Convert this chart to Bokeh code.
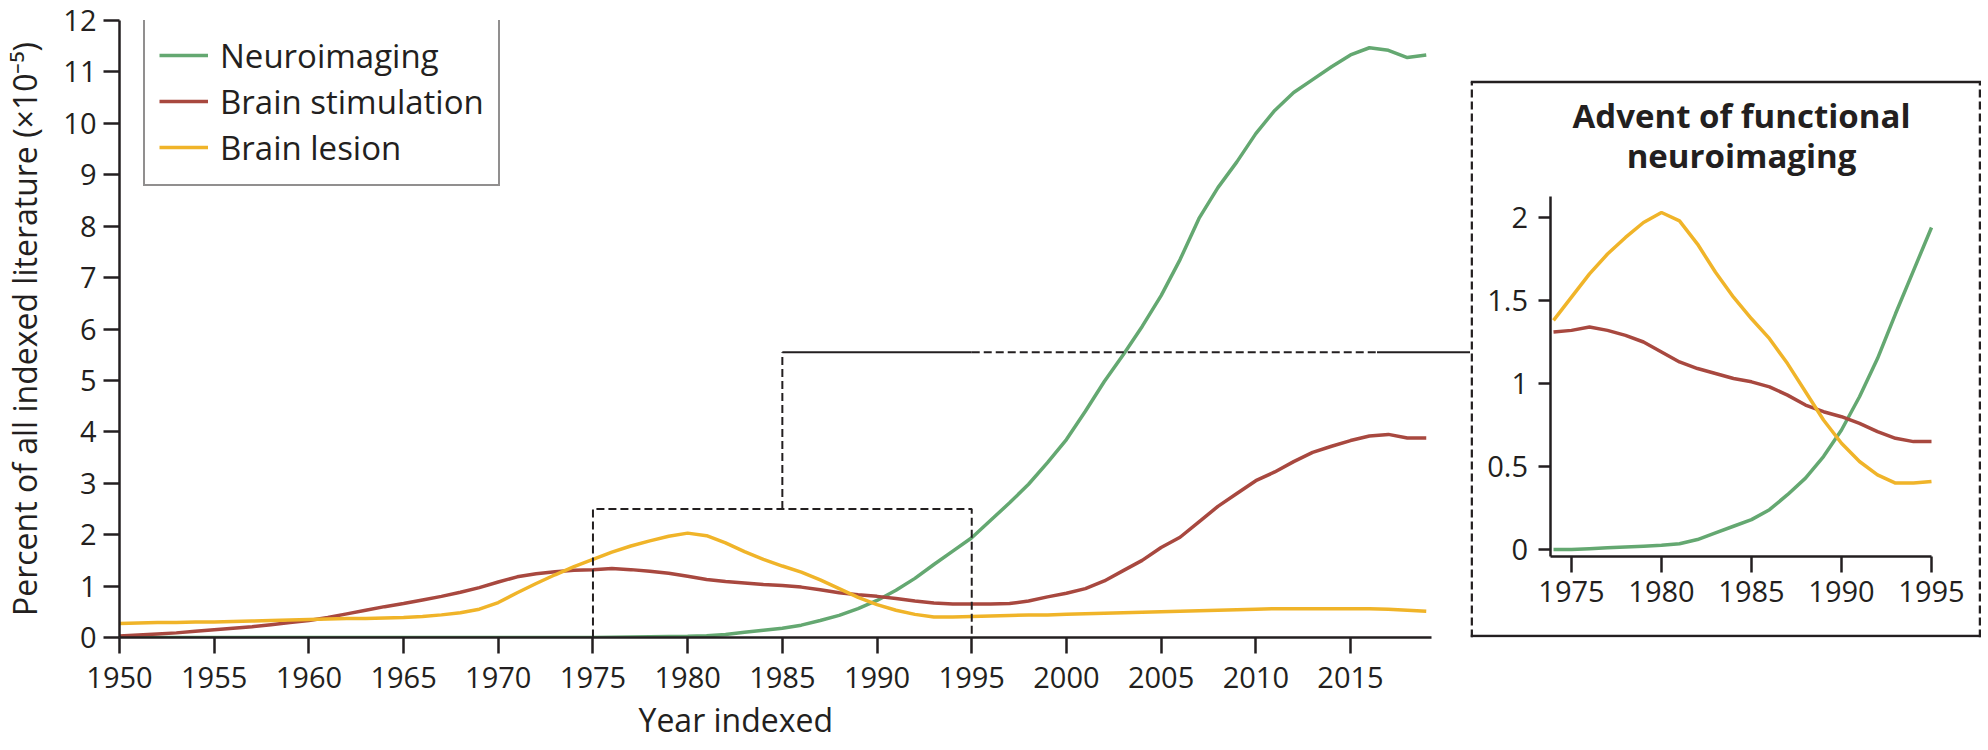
from bokeh.plotting import figure
from bokeh.models import (Legend, LegendItem, Span, Label, FixedTicker, ColumnDataSource,
                          Range1d, NumeralTickFormatter, Title)
from bokeh.layouts import row
from bokeh.embed import file_html
from bokeh.resources import INLINE

# ---------------- data ----------------
years = list(range(1950, 2020))

neuroimaging = [
    0.0, 0.0, 0.0, 0.0, 0.0, 0.0, 0.0, 0.0, 0.0, 0.0,            # 1950-59
    0.0, 0.0, 0.0, 0.0, 0.0, 0.0, 0.0, 0.0, 0.0, 0.0,            # 1960-69
    0.0, 0.0, 0.0, 0.0, 0.0, 0.0, 0.005, 0.01, 0.015, 0.02,      # 1970-79
    0.025, 0.035, 0.06, 0.10, 0.14, 0.18, 0.24, 0.33, 0.43, 0.56,  # 1980-89
    0.72, 0.92, 1.15, 1.42, 1.68, 1.94, 2.28, 2.62, 2.98, 3.40,  # 1990-99
    3.85, 4.40, 4.98, 5.50, 6.05, 6.65, 7.35, 8.15, 8.75, 9.25,  # 2000-09
    9.80, 10.25, 10.60, 10.85, 11.10, 11.33, 11.47, 11.42, 11.28, 11.33,  # 2010-19
]

brain_stimulation = [
    0.03, 0.05, 0.07, 0.09, 0.12, 0.15, 0.18, 0.21, 0.25, 0.29,  # 1950-59
    0.33, 0.39, 0.46, 0.53, 0.60, 0.66, 0.73, 0.80, 0.88, 0.97,  # 1960-69
    1.08, 1.18, 1.24, 1.28, 1.31, 1.32, 1.34, 1.32, 1.29, 1.25,  # 1970-79
    1.19, 1.13, 1.09, 1.06, 1.03, 1.01, 0.98, 0.93, 0.87, 0.83,  # 1980-89
    0.80, 0.76, 0.71, 0.67, 0.65, 0.65, 0.65, 0.66, 0.71, 0.79,  # 1990-99
    0.86, 0.95, 1.10, 1.30, 1.50, 1.75, 1.95, 2.25, 2.55, 2.80,  # 2000-09
    3.05, 3.22, 3.42, 3.60, 3.72, 3.83, 3.92, 3.95, 3.88, 3.88,  # 2010-19
]

brain_lesion = [
    0.27, 0.28, 0.29, 0.29, 0.30, 0.30, 0.31, 0.32, 0.33, 0.34,  # 1950-59
    0.35, 0.36, 0.37, 0.37, 0.38, 0.39, 0.41, 0.44, 0.48, 0.55,  # 1960-69
    0.68, 0.87, 1.05, 1.22, 1.38, 1.52, 1.66, 1.78, 1.88, 1.97,  # 1970-79
    2.03, 1.98, 1.84, 1.67, 1.52, 1.39, 1.27, 1.12, 0.95, 0.78,  # 1980-89
    0.64, 0.53, 0.45, 0.40, 0.40, 0.41, 0.42, 0.43, 0.44, 0.44,  # 1990-99
    0.45, 0.46, 0.47, 0.48, 0.49, 0.50, 0.51, 0.52, 0.53, 0.54,  # 2000-09
    0.55, 0.56, 0.56, 0.56, 0.56, 0.56, 0.56, 0.55, 0.53, 0.51,  # 2010-19
]

series_names = ["Neuroimaging", "Brain stimulation", "Brain lesion"]
main_x_ticks = list(range(1950, 2016, 5))
main_y_ticks = list(range(0, 13))
inset_x_ticks = [1975, 1980, 1985, 1990, 1995]
inset_y_ticks = [0, 0.5, 1, 1.5, 2]
y_label = "Percent of all indexed literature (\u00d710\u207b\u2075)"
x_label = "Year indexed"
inset_title = ["Advent of functional", "neuroimaging"]

zoom_years = (1975, 1995)     # region magnified in the inset
zoom_top = 2.5
callout_year = 1985
callout_level = 5.55
callout_solid_from = 2016.4

# ---------------- styles ----------------
FONT = "Open Sans"
INK = "#231f20"
COLORS = ["#64a871", "#a8483f", "#f0b429"]
LW = 3.5
DASH = "8 4"

# ---------------- main chart ----------------
PX_PER_YEAR = (1349 - 118) / 65.0
FRAME_W, FRAME_H = 1351, 617
TOP = 20
x_end = 1950 + FRAME_W / PX_PER_YEAR

src = ColumnDataSource(dict(year=years, neuro=neuroimaging, stim=brain_stimulation,
                            lesion=brain_lesion))

p = figure(frame_width=FRAME_W, frame_height=FRAME_H,
           x_range=Range1d(1950, x_end), y_range=Range1d(0, 12),
           output_backend="svg", toolbar_location=None,
           min_border_left=110, min_border_right=0, min_border_top=TOP, min_border_bottom=100)
p.xgrid.visible = False
p.ygrid.visible = False
p.outline_line_color = None
p.background_fill_color = "white"
p.border_fill_color = "white"


def style_axis(ax, tick_out, standoff):
    ax.axis_line_width = 2.5
    ax.axis_line_color = INK
    ax.major_tick_line_width = 2.5
    ax.major_tick_line_color = INK
    ax.major_tick_in = 0
    ax.major_tick_out = tick_out
    ax.minor_tick_line_color = None
    ax.major_label_text_font = FONT
    ax.major_label_text_font_size = "29px"
    ax.major_label_text_color = INK
    ax.major_label_standoff = standoff
    ax.axis_label_text_font = FONT
    ax.axis_label_text_font_size = "32px"
    ax.axis_label_text_font_style = "normal"
    ax.axis_label_text_color = INK


xa = p.xaxis[0]
ya = p.yaxis[0]
style_axis(xa, 16, 13)
style_axis(ya, 16, 7)
xa.ticker = FixedTicker(ticks=main_x_ticks)
xa.bounds = (years[0], years[-1] + 0.3)
ya.ticker = FixedTicker(ticks=main_y_ticks)
ya.axis_label = y_label
ya.axis_label_standoff = 14

# x-axis title, left-aligned so that it sits where the reference has it
x_title = Title(text=x_label, align="left", offset=519, standoff=10,
                text_font=FONT, text_font_size="32px", text_font_style="normal",
                text_color=INK)
p.add_layout(x_title, "below")

cols = ["neuro", "stim", "lesion"]
renderers = []
for c, col in zip(cols, COLORS):
    renderers.append(p.line("year", c, source=src, line_color=col, line_width=LW))

# zoom box + callout
p.line([zoom_years[0], zoom_years[0], zoom_years[1], zoom_years[1]],
       [0, zoom_top, zoom_top, 0], line_color=INK, line_width=2, line_dash=DASH)
p.line([callout_year, callout_year], [zoom_top, callout_level],
       line_color=INK, line_width=2, line_dash=DASH)
p.line([callout_year, zoom_years[1]], [callout_level, callout_level],
       line_color=INK, line_width=2)
p.line([zoom_years[1], callout_solid_from], [callout_level, callout_level],
       line_color=INK, line_width=2, line_dash=DASH)
p.line([callout_solid_from, x_end + 1], [callout_level, callout_level],
       line_color=INK, line_width=2)

legend = Legend(items=[LegendItem(label=n, renderers=[r]) for n, r in zip(series_names, renderers)],
                location=(24, FRAME_H - 166))
legend.label_text_font = FONT
legend.label_text_font_size = "33px"
legend.label_text_color = INK
legend.border_line_color = INK
legend.border_line_width = 2.8
legend.background_fill_color = "white"
legend.background_fill_alpha = 1.0
legend.glyph_width = 49
legend.glyph_height = 46
legend.label_height = 46
legend.label_standoff = 12
legend.padding = 14
legend.spacing = 0
legend.margin = 0
p.add_layout(legend)

# ---------------- inset (frame shares the main chart's top and bottom) ----------------
IPX_YEAR = 18.0
IPX_UNIT = 166.0
IW = 511
PAGE_FRAME_BOTTOM = TOP + FRAME_H
ix0 = 1975 - (1570 - 1469) / IPX_YEAR
ix1 = ix0 + IW / IPX_YEAR
iy0 = -(PAGE_FRAME_BOTTOM - 549) / IPX_UNIT
iy1 = iy0 + FRAME_H / IPX_UNIT
box_top = (549 - 81.5) / IPX_UNIT
axis_x_at = 1975 - (1570 - 1548.5) / IPX_YEAR
axis_y_at = -(556 - 549) / IPX_UNIT
axis_y_top = (549 - 196) / IPX_UNIT

ins = figure(frame_width=IW, frame_height=FRAME_H,
             x_range=Range1d(ix0, ix1), y_range=Range1d(iy0, iy1),
             output_backend="svg", toolbar_location=None,
             min_border_left=0, min_border_right=0, min_border_top=TOP, min_border_bottom=100)
ins.xgrid.visible = False
ins.ygrid.visible = False
ins.outline_line_color = None
ins.background_fill_color = "white"
ins.border_fill_color = "white"

ixa = ins.xaxis[0]
iya = ins.yaxis[0]
style_axis(ixa, 16, 8)
style_axis(iya, 12, 10)
ixa.ticker = FixedTicker(ticks=inset_x_ticks)
ixa.fixed_location = axis_y_at
ixa.bounds = (axis_x_at, zoom_years[1])
iya.ticker = FixedTicker(ticks=inset_y_ticks)
iya.formatter = NumeralTickFormatter(format="0.[0]")
iya.fixed_location = axis_x_at
iya.bounds = (axis_y_at, axis_y_top)

lo = years.index(1974)
hi = years.index(zoom_years[1]) + 1
isrc = ColumnDataSource(dict(year=years[lo:hi], neuro=neuroimaging[lo:hi],
                             stim=brain_stimulation[lo:hi], lesion=brain_lesion[lo:hi]))
for c, col in zip(cols, COLORS):
    ins.line("year", c, source=isrc, line_color=col, line_width=LW)

# inset box edges: solid top/bottom, dashed sides
ins.line([ix0, ix1], [box_top, box_top], line_color=INK, line_width=2.5)
ins.add_layout(Span(location=iy0 + 1.5 / IPX_UNIT, dimension="width", line_color=INK, line_width=2.5))
ins.line([ix0 + 1.2 / IPX_YEAR] * 2, [iy0, box_top], line_color=INK, line_width=2.5, line_dash=DASH)
ins.line([ix1 - 1.5 / IPX_YEAR] * 2, [iy0, box_top], line_color=INK, line_width=2.5, line_dash=DASH)

for i, t in enumerate(inset_title):
    ins.add_layout(Label(x=1740 - 1469, y=PAGE_FRAME_BOTTOM - 115 - 40 * i,
                         x_units="screen", y_units="screen",
                         text=t, text_font=FONT, text_font_size="33px", text_font_style="bold",
                         text_color=INK, text_align="center", text_baseline="middle"))

layout = row(p, ins, spacing=0)
open("out.html", "w").write(file_html(layout, INLINE))
